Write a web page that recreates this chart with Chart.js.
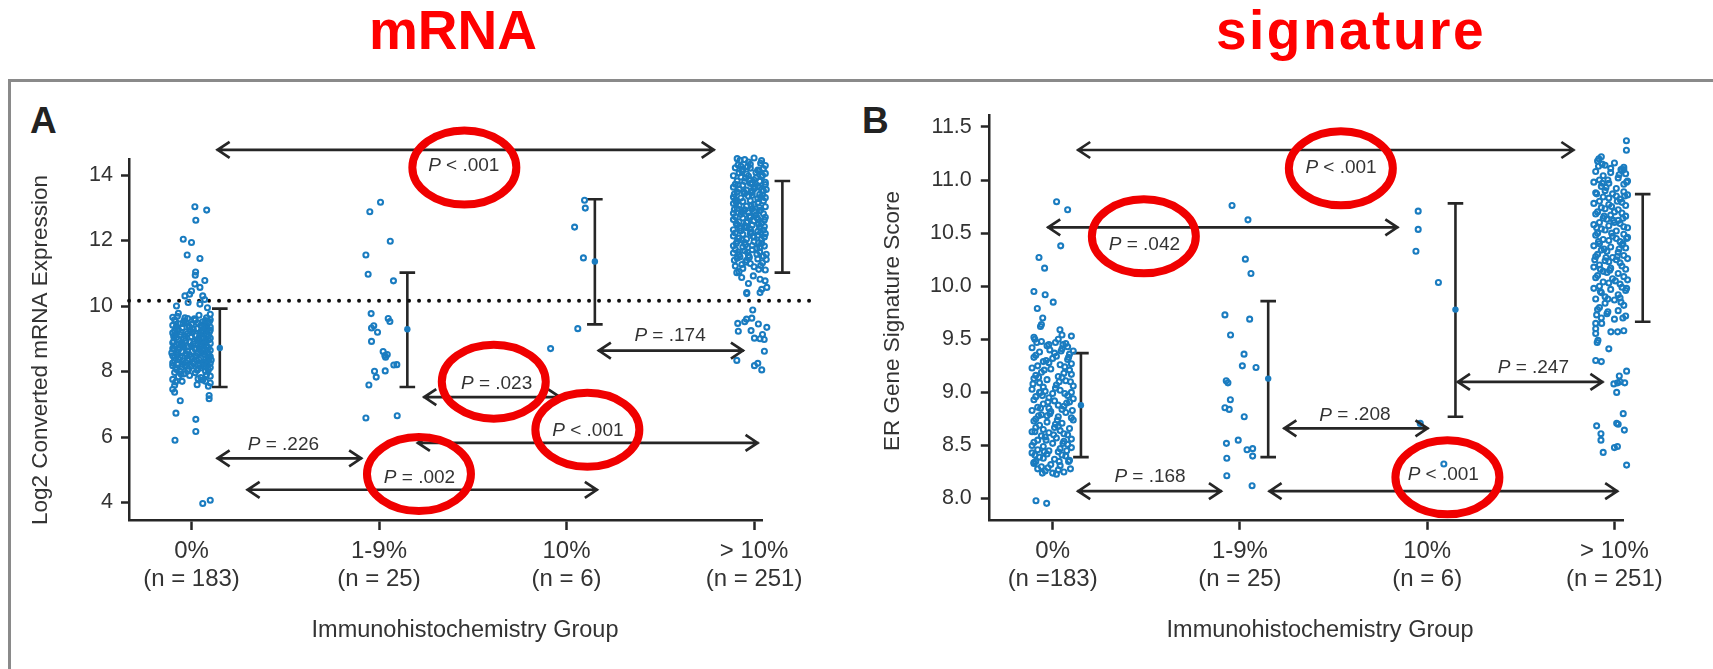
<!DOCTYPE html>
<html>
<head>
<meta charset="utf-8">
<script src="https://cdn.jsdelivr.net/npm/chart.js@4.4.1/dist/chart.umd.min.js"></script>
<style>
html,body{margin:0;padding:0;background:#fff;}
#wrap{position:relative;width:1713px;height:669px;overflow:hidden;font-family:"Liberation Sans",Arial,sans-serif;}
.frame{position:absolute;left:8px;top:79px;width:1760px;height:700px;border-top:3px solid #8a8a8a;border-left:3px solid #8a8a8a;}
.head{position:absolute;top:3px;color:#f00;font-weight:bold;font-size:55px;line-height:55px;white-space:nowrap;transform:translateX(-50%);}
.tag{position:absolute;top:102px;font-weight:bold;font-size:37px;line-height:37px;color:#222;}
canvas{position:absolute;top:0;}
</style>
</head>
<body>
<div id="wrap">
  <div class="frame"></div>
  <div class="head" style="left:453px">mRNA</div>
  <div class="head" style="left:1351px;letter-spacing:2.5px">signature</div>
  <div class="tag" style="left:30px">A</div>
  <div class="tag" style="left:862px">B</div>
  <canvas id="panelA" width="856" height="669" style="left:0"></canvas>
  <canvas id="panelB" width="857" height="669" style="left:856px"></canvas>
</div>
<script>
// ===== data =====
const cats = [1, 2, 3, 4];
const catNames = ['0%', '1-9%', '10%', '> 10%'];
const nLabelsA = ['(n = 183)', '(n = 25)', '(n = 6)', '(n = 251)'];
const nLabelsB = ['(n =183)', '(n = 25)', '(n = 6)', '(n = 251)'];
const yTicksA = [4, 6, 8, 10, 12, 14];
const yTicksB = [8.0, 8.5, 9.0, 9.5, 10.0, 10.5, 11.0, 11.5];

// mean, lower and upper whisker per group
const meanA = [8.72, 9.29, 11.36, 12.41];
const lowA  = [7.53, 7.53, 9.44, 11.02];
const highA = [9.92, 11.02, 13.26, 13.82];
const meanB = [8.88, 9.13, 9.78, 10.26];
const lowB  = [8.39, 8.39, 8.77, 9.665];
const highB = [9.37, 9.86, 10.78, 10.867];

const cutoffA = 10.16;          // dotted line
const cutoffSpanA = [0.667, 4.335];

// [from group, to group, y, label, label x, label y]
const arrowsA = [
  [1.134, 3.79, 14.77, 'P < .001', 2.452, 14.27],
  [3.167, 3.946, 8.64, 'P = .174', 3.552, 9.08],
  [2.236, 2.97, 7.22, 'P = .023', 2.627, 7.62],
  [2.202, 4.024, 5.82, 'P < .001', 3.114, 6.19],
  [1.134, 1.91, 5.35, 'P = .226', 1.49, 5.76],
  [1.294, 3.167, 4.39, 'P = .002', 2.216, 4.77]
];
const arrowsB = [
  [1.131, 3.786, 11.283, 'P < .001', 2.54, 11.12],
  [0.971, 2.846, 10.555, 'P = .042', 1.49, 10.395],
  [3.159, 3.941, 9.099, 'P = .247', 3.567, 9.232],
  [2.232, 3.007, 8.662, 'P = .208', 2.614, 8.785],
  [1.131, 1.904, 8.07, 'P = .168', 1.52, 8.21],
  [2.153, 4.02, 8.07, 'P < .001', 3.086, 8.22]
];
// red highlight rings (centre, in data units)
const ringsA = [[2.455, 14.23], [2.612, 7.69], [3.111, 6.22], [2.213, 4.87]];
const ringsB = [[2.539, 11.11], [1.487, 10.47], [3.108, 8.2]];

// points: [jitter from group centre, value]
const a0Pts = [
  [0.018,13.03],[0.081,12.93],[0.023,12.62],[-0.044,12.04],[0.0,11.94],[-0.023,11.56],[0.045,11.45],[0.022,11.04],
  [0.02,10.94],[0.071,10.78],[0.018,10.67],[0.045,10.57],[0.0,10.46],[-0.01,10.36],[-0.035,10.31],[0.06,10.31],
  [-0.018,10.11],[0.045,10.06],[0.07,10.2],[-0.08,10.0],[0.085,9.95],
  [-0.07,9.78],[0.04,9.72],[-0.1,9.66],[0.08,9.64],[-0.02,9.62],[0.1,9.75],
  [-0.09,9.58],[-0.04,9.55],[0.02,9.57],[0.06,9.52],[0.09,9.49],[-0.06,9.46],[0.0,9.44],[0.05,9.42],[-0.1,9.41],[0.1,9.58],[-0.03,9.5],[0.07,9.45],
  [-0.08,9.38],[-0.05,9.33],[-0.01,9.36],[0.03,9.31],[0.08,9.39],[0.1,9.27],[-0.09,9.24],[0.05,9.22],[-0.03,9.21],[0.01,9.29],[0.07,9.34],[-0.07,9.28],[0.1,9.36],
  [-0.1,9.18],[-0.06,9.12],[-0.02,9.16],[0.02,9.1],[0.06,9.19],[0.09,9.08],[-0.08,9.04],[-0.04,9.01],[0.04,9.03],[0.08,9.14],[0.0,9.06],[-0.09,9.11],[0.1,9.02],
  [-0.07,8.98],[-0.03,8.94],[0.03,8.97],[0.07,8.92],[0.1,8.86],[-0.1,8.88],[-0.05,8.83],[0.01,8.85],[0.05,8.81],[-0.08,8.81],[0.09,8.96],[-0.01,8.9],[0.06,8.99],
  [-0.09,8.78],[-0.04,8.74],[0.0,8.77],[0.04,8.71],[0.08,8.79],[0.1,8.65],[-0.07,8.66],[-0.02,8.62],[0.02,8.68],[0.06,8.63],[-0.1,8.7],[0.09,8.73],[-0.05,8.61],
  [-0.08,8.59],[-0.03,8.55],[0.03,8.57],[0.07,8.52],[0.1,8.46],[-0.1,8.48],[-0.06,8.43],[0.0,8.45],[0.05,8.41],[-0.01,8.51],[0.09,8.56],[-0.09,8.42],[0.02,8.49],
  [-0.07,8.38],[-0.02,8.34],[0.04,8.37],[0.08,8.31],[0.1,8.25],[-0.1,8.27],[-0.05,8.22],[0.01,8.24],[0.06,8.21],[-0.09,8.33],[0.09,8.39],[-0.03,8.28],
  [-0.1,8.18],[-0.05,8.14],[0.0,8.17],[0.05,8.11],[0.09,8.05],[-0.08,8.06],[-0.02,8.02],[0.03,8.04],[0.07,8.16],[-0.06,8.0],[0.1,8.12],
  [-0.09,7.97],[-0.04,7.93],[0.02,7.96],[0.08,7.9],[-0.07,7.84],[0.05,7.82],[0.1,7.86],[-0.01,7.88],
  [-0.1,7.76],[-0.05,7.7],[0.06,7.74],[0.1,7.65],[-0.09,7.58],[0.09,7.55],[-0.1,7.46],[0.03,7.6],
  [-0.085,9.53],[0.035,9.48],[-0.015,9.4],[0.085,9.3],[-0.055,9.2],[0.045,9.15],[-0.095,9.07],[0.015,8.93],
  [0.075,8.87],[-0.045,8.79],[0.025,8.7],[-0.075,8.6],[0.055,8.58],[-0.025,8.5],[0.095,8.44],[-0.065,8.36],
  [0.015,8.3],[0.065,8.26],[-0.035,8.19],[0.035,8.09],[-0.085,8.12],[0.085,8.2],[-0.055,8.88],[0.055,9.05],
  [-0.005,9.25],[0.095,9.52],[-0.035,9.64],[0.025,8.36],[-0.095,8.7],[0.045,8.77],
  [-0.075,9.69],[0.015,9.61],[0.075,9.56],[-0.045,9.47],[0.055,9.35],[-0.085,9.32],[0.005,9.19],[0.095,9.2],
  [-0.035,9.09],[0.035,8.95],[-0.095,8.92],[0.065,8.83],[-0.015,8.75],[-0.065,8.71],[0.045,8.66],[-0.105,8.57],
  [0.085,8.53],[0.005,8.4],[-0.045,8.32],[0.105,8.35],[-0.075,8.24],[0.045,8.18],[-0.015,8.08],[0.075,8.0],
  [-0.055,7.92],[0.035,7.78],[-0.085,7.68],[0.075,7.7],
  [-0.09,7.37],[0.094,7.27],[0.094,7.17],[-0.06,7.11],[-0.083,6.73],[0.023,6.54],[0.023,6.17],[-0.088,5.9],[0.06,3.97],[0.1,4.07]
];
const a1Pts = [
  [0.008,13.17],[-0.049,12.88],[0.06,11.98],[-0.07,11.56],[-0.058,10.97],[0.077,10.77],[-0.042,9.77],[0.049,9.62],
  [0.058,9.53],[-0.028,9.4],[-0.04,9.33],[-0.008,9.2],[-0.04,8.92],[0.022,8.61],[0.031,8.49],[0.044,8.52],
  [0.035,8.44],[0.095,8.21],[0.079,8.2],[0.033,8.02],[-0.024,8.01],[-0.015,7.83],[-0.054,7.59],[-0.07,6.58],[0.097,6.65]
];
const a2Pts = [[0.096,13.23],[0.1,12.99],[0.043,12.41],[0.09,11.47],[0.06,9.31],[-0.085,8.7]];
const a3Pts = [
  [-0.098,15.05],[0.076,15.0],[0.028,14.8],
  [-0.09,14.5],[-0.05,14.47],[0.0,14.52],[0.04,14.44],[0.08,14.38],[-0.02,14.33],[0.06,14.29],[-0.07,14.27],[0.1,14.4],
  [-0.1,14.22],[-0.06,14.18],[-0.02,14.21],[0.02,14.15],[0.05,14.2],[0.09,14.11],[-0.08,14.06],[-0.04,14.03],[0.01,14.08],[0.07,14.02],[0.1,14.17],
  [-0.11,13.98],[-0.07,13.94],[-0.03,13.97],[0.01,13.91],[0.04,13.95],[0.08,13.88],[-0.09,13.82],[-0.05,13.8],[0.0,13.85],[0.06,13.78],[0.1,13.92],[-0.01,13.76],[0.03,13.81],
  [-0.1,13.72],[-0.06,13.69],[-0.02,13.74],[0.02,13.66],[0.06,13.71],[0.09,13.6],[-0.08,13.57],[-0.04,13.54],[0.0,13.58],[0.05,13.52],[0.1,13.55],[-0.11,13.63],[0.03,13.62],
  [-0.09,13.48],[-0.05,13.44],[-0.01,13.47],[0.03,13.41],[0.07,13.46],[0.1,13.36],[-0.11,13.33],[-0.07,13.3],[-0.03,13.35],[0.02,13.28],[0.06,13.31],[0.09,13.26],[-0.01,13.38],
  [-0.1,13.23],[-0.06,13.19],[-0.02,13.22],[0.02,13.16],[0.05,13.21],[0.09,13.12],[-0.08,13.07],[-0.04,13.05],[0.0,13.1],[0.06,13.03],[0.1,13.18],[-0.11,13.13],[0.03,13.01],
  [-0.09,12.98],[-0.05,12.94],[-0.01,12.97],[0.03,12.91],[0.07,12.96],[0.1,12.86],[-0.11,12.83],[-0.07,12.8],[-0.03,12.85],[0.01,12.78],[0.05,12.82],[0.09,12.77],[0.0,12.89],
  [-0.1,12.73],[-0.06,12.69],[-0.02,12.72],[0.02,12.66],[0.06,12.71],[0.09,12.62],[-0.08,12.57],[-0.04,12.55],[0.0,12.6],[0.04,12.53],[0.1,12.68],[-0.11,12.64],[0.07,12.51],
  [-0.09,12.48],[-0.05,12.44],[-0.01,12.47],[0.03,12.41],[0.07,12.46],[0.1,12.36],[-0.11,12.33],[-0.07,12.3],[-0.02,12.35],[0.02,12.28],[0.05,12.32],[0.09,12.27],[-0.04,12.39],
  [-0.1,12.23],[-0.06,12.19],[-0.02,12.22],[0.02,12.16],[0.06,12.21],[0.09,12.12],[-0.08,12.07],[-0.04,12.05],[0.0,12.1],[0.04,12.03],[0.1,12.18],[-0.11,12.14],[0.07,12.01],
  [-0.09,11.98],[-0.05,11.94],[0.0,11.97],[0.04,11.91],[0.08,11.96],[-0.11,11.84],[-0.06,11.8],[-0.01,11.85],[0.03,11.78],[0.07,11.82],[0.1,11.88],
  [-0.1,11.73],[-0.05,11.69],[-0.01,11.72],[0.03,11.66],[0.07,11.7],[0.1,11.6],[-0.08,11.57],[-0.03,11.54],[0.05,11.52],[-0.11,11.62],
  [-0.09,11.46],[-0.04,11.4],[0.02,11.44],[0.08,11.35],[0.1,11.28],[-0.1,11.22],[-0.06,11.15],[0.0,11.2],[0.06,11.1],[-0.08,11.05],[0.09,11.02],[-0.02,11.3],
  [-0.085,14.31],[0.025,14.12],[-0.045,13.9],[0.075,13.67],[-0.015,13.52],[0.045,13.39],[-0.095,13.16],[0.085,13.0],
  [-0.055,12.9],[0.015,12.7],[-0.035,12.58],[0.055,12.43],[-0.075,12.38],[0.035,12.25],[-0.005,12.13],[0.085,11.99],
  [-0.045,11.87],[0.015,11.76],[-0.085,11.65],[0.065,11.58],[-0.025,11.49],[0.045,11.32],[-0.065,11.27],[0.025,11.12],
  [-0.105,12.95],[0.105,12.45],[-0.105,13.42],[0.105,13.75],[-0.03,14.4],[0.06,14.05],
  [-0.075,14.45],[0.035,14.36],[-0.035,14.25],[0.085,14.23],[-0.065,14.12],[0.045,13.99],[-0.025,13.86],[0.095,13.83],
  [-0.085,13.7],[0.005,13.64],[0.065,13.56],[-0.055,13.49],[0.035,13.32],[-0.095,13.24],[0.075,13.14],[-0.015,13.06],
  [0.035,12.93],[-0.065,12.87],[0.085,12.8],[-0.025,12.75],[0.055,12.63],[-0.095,12.52],[0.025,12.49],[-0.045,12.42],
  [0.095,12.31],[-0.015,12.26],[0.055,12.11],[-0.065,12.02],[0.025,11.94],[-0.095,11.91],[0.055,11.83],[-0.035,11.64],
  [0.085,11.68],[-0.075,11.5],[0.015,11.58],[0.065,11.42],[-0.045,11.34],[0.035,11.24],[-0.105,11.4],[0.105,12.05],
  [-0.092,11.02],[-0.066,10.87],[-0.03,10.69],[-0.004,10.92],[0.032,10.82],[0.059,10.77],[0.085,10.82],[0.041,10.51],
  [-0.039,10.41],[0.068,10.57],[0.032,10.41],[-0.039,10.38],
  [-0.007,9.88],[-0.04,9.6],[-0.087,9.47],[-0.012,9.63],[0.023,9.45],[0.068,9.35],[-0.084,9.23],[-0.016,9.25],
  [0.002,9.02],[0.032,9.0],[0.054,8.98],[0.07,9.0],[0.055,8.62],[-0.092,8.34],[0.002,8.18],[0.02,8.25],
  [0.041,8.05],[0.076,6.61],[-0.05,9.52],[0.045,9.13]
];

const b0Pts = [
  [0.021,10.795],[0.08,10.72],[0.043,10.38],[-0.073,10.27],[-0.043,10.17],[-0.1,9.95],[-0.04,9.92],[0.003,9.85],
  [-0.082,9.79],[-0.053,9.7],[-0.06,9.64],[-0.065,9.62],[0.039,9.59],[-0.089,7.98],[-0.032,7.955],
  [-0.1,9.52],[-0.06,9.48],[0.03,9.5],[0.07,9.46],[0.1,9.53],[-0.02,9.45],[0.05,9.54],
  [-0.11,9.42],[-0.07,9.38],[-0.03,9.44],[0.01,9.37],[0.05,9.41],[0.09,9.36],[-0.09,9.35],[0.08,9.43],[0.11,9.39],
  [-0.1,9.33],[-0.05,9.29],[0.0,9.32],[0.04,9.26],[0.08,9.31],[-0.08,9.25],[0.02,9.34],[0.1,9.27],[-0.02,9.28],
  [-0.11,9.23],[-0.06,9.19],[-0.01,9.22],[0.06,9.18],[0.09,9.21],[-0.09,9.16],[0.03,9.15],[0.1,9.17],
  [-0.1,9.13],[-0.07,9.09],[-0.03,9.12],[0.02,9.07],[0.07,9.11],[0.11,9.06],[-0.05,9.05],[0.05,9.14],
  [-0.11,9.03],[-0.07,9.0],[-0.04,9.01],[0.0,8.99],[0.04,9.02],[0.08,8.97],[-0.09,8.96],[0.1,9.0],[-0.02,8.95],
  [-0.1,8.93],[-0.05,8.89],[0.01,8.92],[0.06,8.87],[0.09,8.91],[-0.08,8.86],[-0.02,8.85],[0.03,8.88],[0.11,8.94],
  [-0.11,8.83],[-0.06,8.79],[-0.01,8.82],[0.03,8.77],[0.07,8.81],[0.1,8.76],[-0.09,8.75],[0.05,8.84],[-0.03,8.78],
  [-0.1,8.73],[-0.07,8.69],[-0.03,8.72],[0.01,8.67],[0.05,8.71],[0.09,8.66],[-0.05,8.65],[0.11,8.74],[0.03,8.68],[-0.09,8.67],
  [-0.11,8.63],[-0.06,8.59],[-0.02,8.62],[0.02,8.57],[0.06,8.61],[0.1,8.56],[-0.08,8.55],[0.04,8.64],[-0.04,8.58],[0.08,8.6],
  [-0.1,8.53],[-0.05,8.49],[0.0,8.52],[0.04,8.47],[0.08,8.51],[-0.08,8.46],[-0.02,8.45],[0.06,8.54],[0.1,8.48],[-0.11,8.5],
  [-0.11,8.43],[-0.07,8.39],[-0.03,8.42],[0.01,8.37],[0.05,8.41],[0.09,8.36],[-0.09,8.35],[0.03,8.44],[-0.05,8.38],[0.07,8.4],
  [-0.1,8.33],[-0.06,8.3],[-0.01,8.32],[0.03,8.27],[0.06,8.25],[-0.08,8.28],[0.0,8.24],[-0.04,8.26],[0.04,8.31],[-0.1,8.34],[0.02,8.23],
  [-0.085,9.47],[0.045,9.39],[-0.035,9.3],[0.065,9.24],[-0.075,9.14],[0.015,9.04],[-0.055,8.97],[0.075,8.9],
  [-0.015,8.8],[0.025,8.74],[-0.095,8.63],[0.055,8.52],[-0.045,8.44],[0.085,8.35],[-0.025,8.29],[0.005,8.6],
  [-0.065,8.85],[0.095,9.1],
  [-0.095,9.5],[0.015,9.47],[0.085,9.33],[-0.045,9.21],[0.035,9.1],[-0.105,9.08],[0.065,8.99],[-0.025,8.91],
  [0.105,8.83],[-0.075,8.78],[0.015,8.7],[-0.035,8.55],[0.075,8.45],[-0.095,8.41],[0.035,8.35],[-0.055,8.24],
  [0.095,8.28],[-0.015,9.4],[0.055,9.45],[-0.065,9.0]
];
const b1Pts = [
  [-0.042,10.76],[0.043,10.625],[0.029,10.255],[0.059,10.12],[-0.08,9.73],[0.052,9.69],[-0.05,9.54],[0.022,9.36],
  [0.013,9.25],[0.086,9.235],[-0.073,9.11],[-0.064,9.09],[-0.051,8.93],[-0.08,8.855],[-0.057,8.84],[0.023,8.77],
  [-0.009,8.55],[-0.072,8.52],[0.038,8.46],[0.068,8.47],[0.068,8.4],[-0.07,8.38],[-0.07,8.215],[0.065,8.12]
];
const b2Pts = [[-0.048,10.707],[-0.048,10.535],[-0.06,10.33],[0.06,10.035],[-0.037,8.708],[0.089,8.325]];
const b3Pts = [
  [0.064,11.37],[0.064,11.28],[-0.083,11.2],[-0.07,11.22],[0.05,11.1],[0.075,11.07],[0.065,10.98],
  [-0.09,11.18],[-0.05,11.14],[0.0,11.16],[0.05,11.12],[-0.02,11.11],[0.08,11.19],
  [-0.1,11.08],[-0.06,11.04],[-0.02,11.07],[0.02,11.02],[0.06,11.06],[0.1,11.01],[-0.08,11.0],[0.04,11.09],
  [-0.11,10.98],[-0.07,10.94],[-0.03,10.97],[0.01,10.92],[0.05,10.96],[0.09,10.91],[-0.05,10.9],[0.07,10.99],[0.11,10.95],
  [-0.1,10.88],[-0.06,10.84],[-0.01,10.87],[0.03,10.82],[0.07,10.86],[0.1,10.81],[-0.08,10.8],[0.05,10.89],[-0.03,10.83],[0.01,10.85],
  [-0.11,10.78],[-0.07,10.74],[-0.03,10.77],[0.02,10.72],[0.06,10.76],[0.1,10.71],[-0.09,10.7],[0.04,10.79],[-0.05,10.73],[0.08,10.75],[0.0,10.7],
  [-0.1,10.68],[-0.06,10.64],[-0.02,10.67],[0.02,10.62],[0.06,10.66],[0.09,10.61],[-0.08,10.6],[0.04,10.69],[-0.04,10.63],[0.11,10.65],[0.0,10.6],
  [-0.11,10.58],[-0.07,10.54],[-0.03,10.57],[0.01,10.52],[0.05,10.56],[0.09,10.51],[-0.09,10.5],[0.03,10.59],[-0.05,10.53],[0.07,10.55],[0.11,10.58],
  [-0.1,10.48],[-0.06,10.44],[-0.01,10.47],[0.03,10.42],[0.07,10.46],[0.1,10.41],[-0.08,10.4],[0.05,10.49],[-0.03,10.43],[0.01,10.45],
  [-0.11,10.38],[-0.07,10.34],[-0.02,10.37],[0.02,10.32],[0.06,10.36],[0.1,10.31],[-0.09,10.3],[0.04,10.39],[-0.04,10.33],[0.08,10.35],
  [-0.1,10.28],[-0.05,10.24],[-0.01,10.27],[0.03,10.22],[0.07,10.26],[0.11,10.21],[-0.08,10.2],[0.05,10.29],[-0.03,10.23],[0.01,10.25],
  [-0.11,10.18],[-0.06,10.14],[-0.02,10.17],[0.02,10.12],[0.06,10.16],[0.09,10.11],[-0.09,10.1],[0.04,10.19],[-0.04,10.13],[0.08,10.15],
  [-0.1,10.08],[-0.06,10.04],[-0.01,10.07],[0.03,10.02],[0.07,10.06],[0.1,10.01],[-0.08,10.0],[0.05,10.09],[-0.03,10.03],
  [-0.11,9.98],[-0.07,9.94],[-0.02,9.97],[0.02,9.92],[0.06,9.96],[0.09,9.91],[-0.05,9.9],[0.04,9.99],
  [-0.1,9.88],[-0.05,9.84],[0.0,9.87],[0.05,9.82],[0.08,9.86],[-0.08,9.8],[0.03,9.89],
  [-0.09,9.78],[-0.04,9.74],[0.02,9.77],[0.06,9.72],[-0.07,9.7],[0.0,9.69],[0.09,9.75],
  [-0.085,11.13],[0.025,11.05],[-0.045,10.93],[0.085,10.84],[-0.015,10.75],[0.045,10.64],[-0.095,10.55],[0.065,10.45],
  [-0.055,10.35],[0.015,10.28],[-0.025,10.15],[0.075,10.05],[-0.075,9.95],[0.035,9.85],[-0.035,9.76],[0.105,10.72],[-0.105,10.25],
  [-0.065,11.15],[0.035,11.1],[-0.035,11.0],[0.075,10.93],[-0.095,10.87],[0.015,10.8],[-0.055,10.66],[0.085,10.6],
  [-0.015,10.5],[0.045,10.4],[-0.085,10.42],[0.025,10.35],[-0.045,10.27],[0.095,10.24],[-0.075,10.16],[0.005,10.05],
  [0.065,9.98],[-0.035,9.88],[0.085,9.78],[-0.095,9.73],[0.045,9.7],[-0.005,10.62],[0.055,10.85],[-0.065,10.97],
  [-0.1,9.65],[-0.068,9.65],[-0.1,9.6],[-0.1,9.555],[-0.019,9.57],[0.017,9.57],[0.05,9.58],[-0.088,9.49],
  [-0.092,9.47],[-0.03,9.41],[-0.1,9.3],[-0.07,9.29],[0.065,9.2],[0.026,9.155],[0.09,9.17],[0.017,9.09],
  [-0.003,9.08],[0.03,9.1],[0.055,9.09],[0.012,9.0],[0.088,8.95],[0.047,8.8],[0.012,8.71],[0.02,8.7],
  [-0.095,8.685],[0.053,8.645],[-0.072,8.61],[-0.072,8.55],[0.016,8.49],[0.0,8.48],[0.088,8.52],[-0.06,8.435],[0.065,8.315]
];

// ===== style =====
const FAM = '"Liberation Sans", Arial, Helvetica, sans-serif';
const INK = '#262626';
const TXT = '#333333';
const BLUE = '#1a7cc0';
const RED = '#f00000';
const EB_DX = 0.151;   // whisker offset right of the group
const CAP = 7.8;

function pLabel(ctx, s, cx, cy){
  const rest = s.slice(1);
  ctx.font = 'italic 19px ' + FAM;
  const wP = ctx.measureText('P').width;
  ctx.font = '19px ' + FAM;
  const wR = ctx.measureText(rest).width;
  const x0 = cx - (wP + wR) / 2;
  ctx.fillStyle = TXT; ctx.textAlign = 'left'; ctx.textBaseline = 'middle';
  ctx.font = 'italic 19px ' + FAM; ctx.fillText('P', x0, cy);
  ctx.font = '19px ' + FAM; ctx.fillText(rest, x0 + wP, cy);
}

const annot = {
  id: 'annot',
  beforeDatasetsDraw(chart, args, o){
    const {ctx} = chart, xs = chart.scales.x, ys = chart.scales.y;
    ctx.save();
    ctx.strokeStyle = INK; ctx.lineWidth = 2.6; ctx.lineCap = 'butt';
    o.low.forEach((lo, i) => {
      const px = xs.getPixelForValue(cats[i] + EB_DX);
      const y1 = ys.getPixelForValue(lo), y2 = ys.getPixelForValue(o.high[i]);
      ctx.beginPath();
      ctx.moveTo(px, y1); ctx.lineTo(px, y2);
      ctx.moveTo(px - CAP, y1); ctx.lineTo(px + CAP, y1);
      ctx.moveTo(px - CAP, y2); ctx.lineTo(px + CAP, y2);
      ctx.stroke();
    });
    ctx.restore();
  },
  afterDatasetsDraw(chart, args, o){
    const {ctx} = chart, xs = chart.scales.x, ys = chart.scales.y;
    ctx.save();
    // arrows
    ctx.strokeStyle = INK; ctx.lineWidth = 2.7; ctx.lineJoin = 'miter';
    o.arrows.forEach(a => {
      const xa = xs.getPixelForValue(a[0]), xb = xs.getPixelForValue(a[1]), y = ys.getPixelForValue(a[2]);
      ctx.beginPath();
      ctx.moveTo(xa, y); ctx.lineTo(xb, y);
      ctx.moveTo(xa + 13, y - 8); ctx.lineTo(xa + 1, y); ctx.lineTo(xa + 13, y + 8);
      ctx.moveTo(xb - 13, y - 8); ctx.lineTo(xb - 1, y); ctx.lineTo(xb - 13, y + 8);
      ctx.stroke();
      pLabel(ctx, a[3], xs.getPixelForValue(a[4]), ys.getPixelForValue(a[5]));
    });
    // axis titles
    ctx.fillStyle = TXT; ctx.textAlign = 'center'; ctx.textBaseline = 'middle';
    ctx.font = '23.5px ' + FAM;
    ctx.fillText('Immunohistochemistry Group', o.xTitleX, 631);
    ctx.save();
    ctx.translate(o.yTitleX, o.yTitleY);
    ctx.rotate(-Math.PI / 2);
    ctx.font = '22.5px ' + FAM;
    ctx.fillText(o.yTitle, 0, 0);
    ctx.restore();
    // red rings
    ctx.strokeStyle = RED; ctx.lineWidth = 8;
    o.rings.forEach(r => {
      ctx.beginPath();
      ctx.ellipse(xs.getPixelForValue(r[0]), ys.getPixelForValue(r[1]), 52, 37, 0, 0, Math.PI * 2);
      ctx.stroke();
    });
    ctx.restore();
  }
};

function scatterSet(pts, cat){
  return {
    data: pts.map(p => ({x: cat + p[0], y: p[1]})),
    pointRadius: 2.5, pointHoverRadius: 2.5, pointBorderWidth: 2.1,
    pointBorderColor: BLUE, pointBackgroundColor: 'rgba(255,255,255,0)',
    clip: false
  };
}

function makePanel(id, p){
  const datasets = [];
  datasets.push({
    data: p.mean.map((v, i) => ({x: cats[i] + EB_DX, y: v})),
    pointRadius: 3.2, pointHoverRadius: 3.2, pointBorderWidth: 0,
    pointBackgroundColor: BLUE, clip: false
  });
  p.groups.forEach((g, i) => datasets.push(scatterSet(g, cats[i])));
  if (p.cutoff != null){
    datasets.push({
      type: 'line',
      data: [{x: p.cutoffSpan[0], y: p.cutoff}, {x: p.cutoffSpan[1], y: p.cutoff}],
      borderColor: '#111', borderWidth: 4, borderDash: [0, 10], borderCapStyle: 'round',
      pointRadius: 0, clip: false
    });
  }
  return new Chart(document.getElementById(id), {
    type: 'scatter',
    data: {datasets},
    options: {
      responsive: false, animation: false, events: [],
      layout: {padding: p.pad},
      plugins: {
        legend: {display: false}, tooltip: {enabled: false},
        annot: {low: p.low, high: p.high, arrows: p.arrows, rings: p.rings, xTitleX: p.xTitleX,
                yTitle: p.yTitle, yTitleX: p.yTitleX, yTitleY: p.yTitleY}
      },
      scales: {
        x: {
          type: 'linear', min: p.xMin, max: p.xMax,
          afterBuildTicks: s => { s.ticks = cats.map(v => ({value: v})); },
          afterFit: s => { s.height = p.xAxisH; },
          ticks: {
            callback: v => [catNames[v - 1], p.nLabels[v - 1]],
            font: {family: FAM, size: 24, lineHeight: 1.15}, color: TXT,
            padding: 8, maxRotation: 0, autoSkip: false
          },
          grid: {drawOnChartArea: false, drawTicks: true, tickLength: 10, tickWidth: 2.5, tickColor: INK},
          border: {display: true, color: INK, width: 2.5}
        },
        y: {
          type: 'linear', min: p.yMin, max: p.yMax,
          afterBuildTicks: s => { s.ticks = p.yTicks.map(v => ({value: v})); },
          afterFit: s => { s.width = p.yAxisW; },
          ticks: {
            callback: v => p.fmt(v),
            font: {family: FAM, size: 21.5}, color: TXT, padding: p.yTickPad
          },
          grid: {drawOnChartArea: false, drawTicks: true, tickLength: 8, tickWidth: 2.5, tickColor: INK},
          border: {display: true, color: INK, width: 2.5}
        }
      }
    },
    plugins: [annot]
  });
}

makePanel('panelA', {
  groups: [a0Pts, a1Pts, a2Pts, a3Pts],
  mean: meanA, low: lowA, high: highA,
  cutoff: cutoffA, cutoffSpan: cutoffSpanA,
  arrows: arrowsA, rings: ringsA,
  nLabels: nLabelsA, yTicks: yTicksA, fmt: v => String(v),
  xMin: 0.6667, xMax: 4.045, yMin: 3.467, yMax: 14.49,
  pad: {top: 159, right: 93.5, bottom: 0, left: 0},
  xAxisH: 149, yAxisW: 129, yTickPad: 8,
  yTitle: 'Log2 Converted mRNA Expression', yTitleX: 41, yTitleY: 350, xTitleX: 465
});

makePanel('panelB', {
  groups: [b0Pts, b1Pts, b2Pts, b3Pts],
  mean: meanB, low: lowB, high: highB,
  cutoff: null,
  arrows: arrowsB, rings: ringsB,
  nLabels: nLabelsB, yTicks: yTicksB, fmt: v => v.toFixed(1),
  xMin: 0.659, xMax: 4.05, yMin: 7.8, yMax: 11.607,
  pad: {top: 115.6, right: 89.2, bottom: 0, left: 0},
  xAxisH: 149.2, yAxisW: 132.8, yTickPad: 9,
  yTitle: 'ER Gene Signature Score', yTitleX: 37, yTitleY: 321, xTitleX: 464
});
</script>
</body>
</html>
